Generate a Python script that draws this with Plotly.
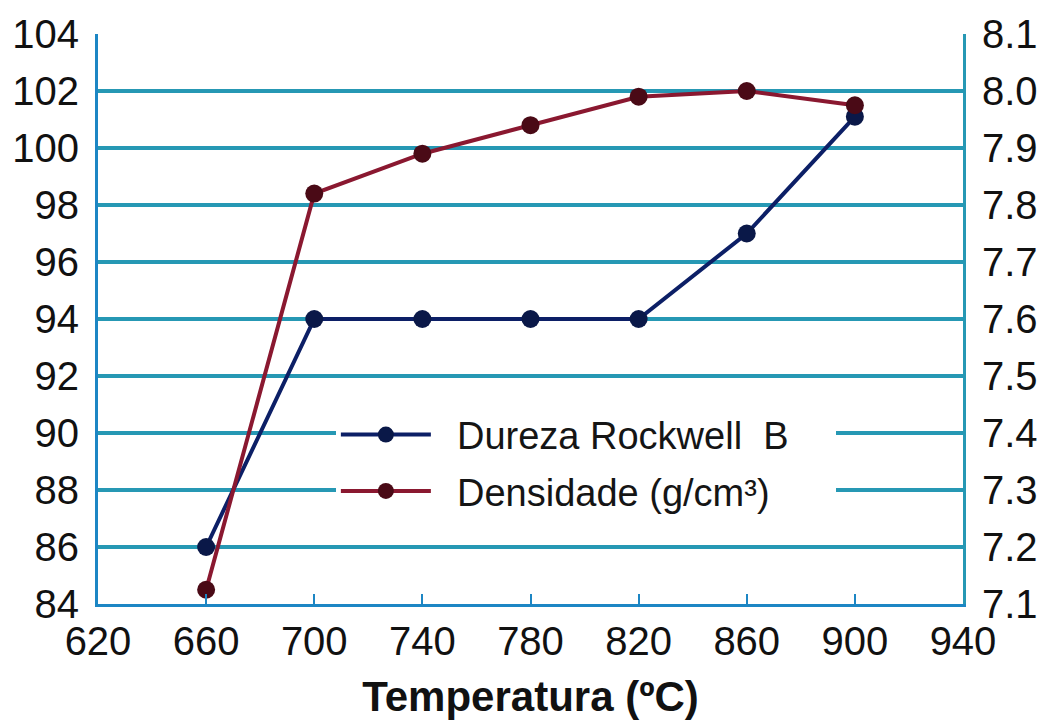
import plotly.graph_objects as go

# Temperature (°C) for each sample
temperatura = [660, 700, 740, 780, 820, 860, 900]
# Rockwell B hardness (left axis)
dureza = [86.0, 94.0, 94.0, 94.0, 94.0, 97.0, 101.1]
# Density in g/cm³ (right axis)
densidade = [7.125, 7.82, 7.89, 7.94, 7.99, 8.0, 7.975]

x_ticks = [620, 660, 700, 740, 780, 820, 860, 900, 940]
y_left_ticks = list(range(84, 105, 2))
y_right_ticks = [round(7.1 + 0.1 * i, 1) for i in range(11)]

grid_color = "#2698b4"
axis_color = "#1c86c4"
font_family = "Arial, Liberation Sans, Helvetica, sans-serif"
lead = "\u00a0\u00a0"
trail = "\u00a0\u00a0\u00a0\u00a0"

fig = go.Figure()

fig.add_trace(go.Scatter(
    x=temperatura, y=dureza, name=lead + "Dureza Rockwell  B" + trail,
    mode="lines+markers", legendgroup="a",
    line=dict(color="#0c1f66", width=4),
    marker=dict(color="#0a1848", size=18),
    yaxis="y",
))
fig.add_trace(go.Scatter(
    x=temperatura, y=densidade, name=lead + "Densidade (g/cm³)",
    mode="lines+markers", legendgroup="b",
    line=dict(color="#8a1830", width=4),
    marker=dict(color="#4a0a16", size=18),
    yaxis="y2",
))

fig.update_layout(
    width=1050, height=724,
    margin=dict(l=97, r=84, t=33, b=119),
    paper_bgcolor="white", plot_bgcolor="white",
    font=dict(family=font_family, color="#111111"),
    showlegend=True,
    legend=dict(
        x=0.275, y=0.352, xanchor="left", yanchor="top",
        bgcolor="white", borderwidth=0,
        font=dict(size=38, family=font_family, color="#151515"),
        itemwidth=90, tracegroupgap=4,
    ),
    xaxis=dict(
        range=[620, 940], tickvals=x_ticks,
        ticks="inside", ticklen=10, tickwidth=2, tickcolor=axis_color,
        showline=True, linecolor=axis_color, linewidth=3,
        showgrid=False, zeroline=False,
        tickfont=dict(size=40, color="#111111"),
        title=dict(text="<b>Temperatura (ºC)</b>", font=dict(size=42, color="#111111"), standoff=20),
    ),
    yaxis=dict(
        range=[84, 104], tickvals=y_left_ticks,
        showline=True, linecolor=axis_color, linewidth=3,
        showgrid=True, gridcolor=grid_color, gridwidth=3.5,
        zeroline=False, ticks="", ticklabelstandoff=8,
        tickfont=dict(size=40, color="#111111"),
    ),
    yaxis2=dict(
        range=[7.1, 8.1], tickvals=y_right_ticks, tickformat=".1f",
        overlaying="y", side="right",
        showline=True, linecolor=grid_color, linewidth=3,
        showgrid=False, zeroline=False, ticks="", ticklabelstandoff=8,
        tickfont=dict(size=40, color="#111111"),
    ),
)

fig.write_html("out.html")
